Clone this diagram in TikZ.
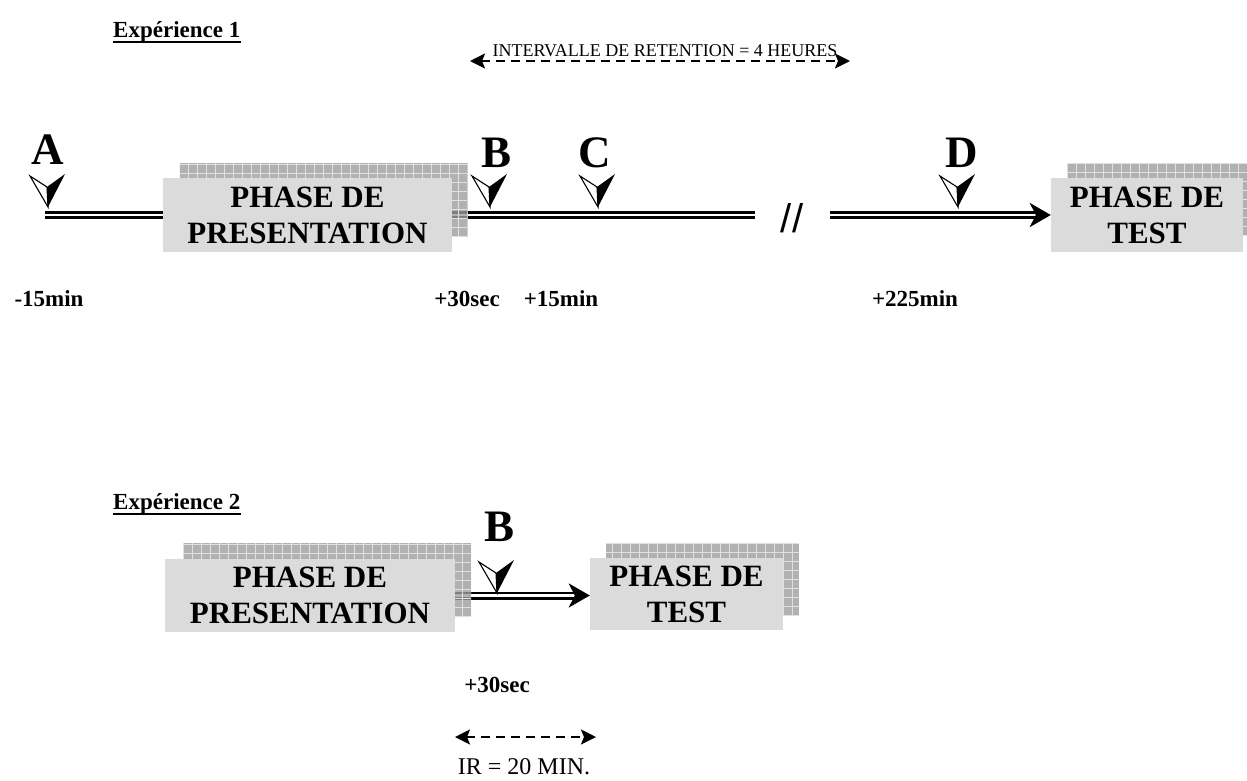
\documentclass[tikz,border=0pt]{standalone}
\usepackage{fontspec}
\setmainfont{Liberation Serif}
\newfontfamily\slashfont{Liberation Sans}
\usetikzlibrary{arrows.meta,calc}
\pgfdeclarelayer{bg}
\pgfsetlayers{bg,main}

\newcommand\fsz[1]{\fontsize{#1}{#1}\selectfont}

\tikzset{
  frontbox/.style={fill=black!14, draw=none, inner sep=0pt, align=center,
    font=\bfseries\fontsize{31}{36}\selectfont},
  shadowbox/.style={fill=black!38, fill opacity=0.8, draw=none, inner sep=0pt,
    path picture={\draw[black!12, line width=0.9pt]
      (path picture bounding box.south west) grid[step=9pt]
      (path picture bounding box.north east);}},
  dline/.style={draw=black, line width=2.8pt, double=white, double distance=2.4pt},
  dlinearrow/.style={dline, -{Stealth[length=21pt, width=24pt, inset=6pt]}},
  dasharrow/.style={line width=2.2pt, dash pattern=on 9pt off 6pt,
    {Stealth[length=15pt, width=15pt, inset=3pt]}-{Stealth[length=15pt, width=15pt, inset=3pt]}},
  letter/.style={font=\bfseries\fsz{45}, inner sep=0pt, anchor=base},
  timelbl/.style={font=\bfseries\fsz{23}, inner sep=0pt, anchor=base},
  heading/.style={font=\bfseries\fsz{23}, inner sep=0pt, anchor=base west},
  plain/.style={font=\fsz{24}, inner sep=0pt, anchor=base},
  marker/.pic={
    \filldraw[fill=white, draw=black, line width=1.1pt, line join=miter]
      (-18,-31) -- (-1,-20) -- (0,0) -- cycle;
    \fill[black] (-1,-20) -- (17,-33) -- (0,0) -- cycle;
  }
}

\begin{document}
\begin{tikzpicture}[x=1pt, y=-1pt]
\useasboundingbox (0,0) rectangle (1247,780);

% ---------------- Experience 1 ----------------
\node[heading] (h1) at (113,37) {Expérience 1};
\draw[line width=2.6pt] ($(h1.base west)+(0,5)$) -- ($(h1.base east)+(0,5)$);

\node[font=\fsz{18}, inner sep=0pt, anchor=base] (ret) at (665,56)
  {INTERVALLE DE RETENTION = 4 HEURES};
\coordinate (retL) at (470,61);
\coordinate (retR) at (850,61);
\draw[dasharrow] (retL) -- (retR);

% boxes
\node[shadowbox, minimum width=288pt, minimum height=74pt] (prS1) at (323.5,200) {};
\node[frontbox, minimum width=289pt, minimum height=74pt] (prF1) at (307.5,215)
  {PHASE DE\\PRESENTATION};
\node[shadowbox, minimum width=180pt, minimum height=73pt] (teS1) at (1157,199.5) {};
\node[frontbox, minimum width=192pt, minimum height=74pt] (teF1) at (1147,215)
  {PHASE DE\\TEST};

% time line
\coordinate (a0) at (45,215);
\coordinate (brk1) at (755,215);
\coordinate (brk2) at (830,215);
\begin{pgfonlayer}{bg}
  \draw[dline] (a0) -- (prF1.west);
  \draw[dline] (prF1.east) -- (brk1);
  \draw[dlinearrow] (brk2) -- (teF1.west);
\end{pgfonlayer}
\node[font=\slashfont\fsz{40}, inner sep=0pt] (brk) at (792,218) {//};

% markers and their letters
\pic at (48,207) {marker};
\pic at (490,207) {marker};
\pic at (598,207) {marker};
\pic at (958,207) {marker};
\node[letter] (lA) at (48,164) {A};
\node[letter] (lB) at (497,167) {B};
\node[letter] (lC) at (595,167) {C};
\node[letter] (lD) at (962,167) {D};

% times
\node[timelbl] (t1) at (49,306) {-15min};
\node[timelbl] (t2) at (467,306) {+30sec};
\node[timelbl] (t3) at (561,306) {+15min};
\node[timelbl] (t4) at (915,306) {+225min};

% ---------------- Experience 2 ----------------
\node[heading] (h2) at (113,509) {Expérience 2};
\draw[line width=2.6pt] ($(h2.base west)+(0,5)$) -- ($(h2.base east)+(0,5)$);

\node[shadowbox, minimum width=288pt, minimum height=74pt] (prS2) at (327,580) {};
\node[frontbox, minimum width=290pt, minimum height=73pt] (prF2) at (310,595.5)
  {PHASE DE\\PRESENTATION};
\node[shadowbox, minimum width=193pt, minimum height=73pt] (teS2) at (702.5,579.5) {};
\node[frontbox, minimum width=193pt, minimum height=72pt] (teF2) at (686.5,594)
  {PHASE DE\\TEST};

\begin{pgfonlayer}{bg}
  \draw[dlinearrow] (prF2.east) -- (teF2.west |- prF2.east);
\end{pgfonlayer}

\pic at (497,593) {marker};
\node[letter] (lB2) at (500,541) {B};

\node[timelbl] (t5) at (497,692) {+30sec};
\coordinate (irL) at (455,737);
\coordinate (irR) at (596,737);
\draw[dasharrow] (irL) -- (irR);
\node[plain] (ir) at (524,774) {IR = 20 MIN.};
\end{tikzpicture}
\end{document}
